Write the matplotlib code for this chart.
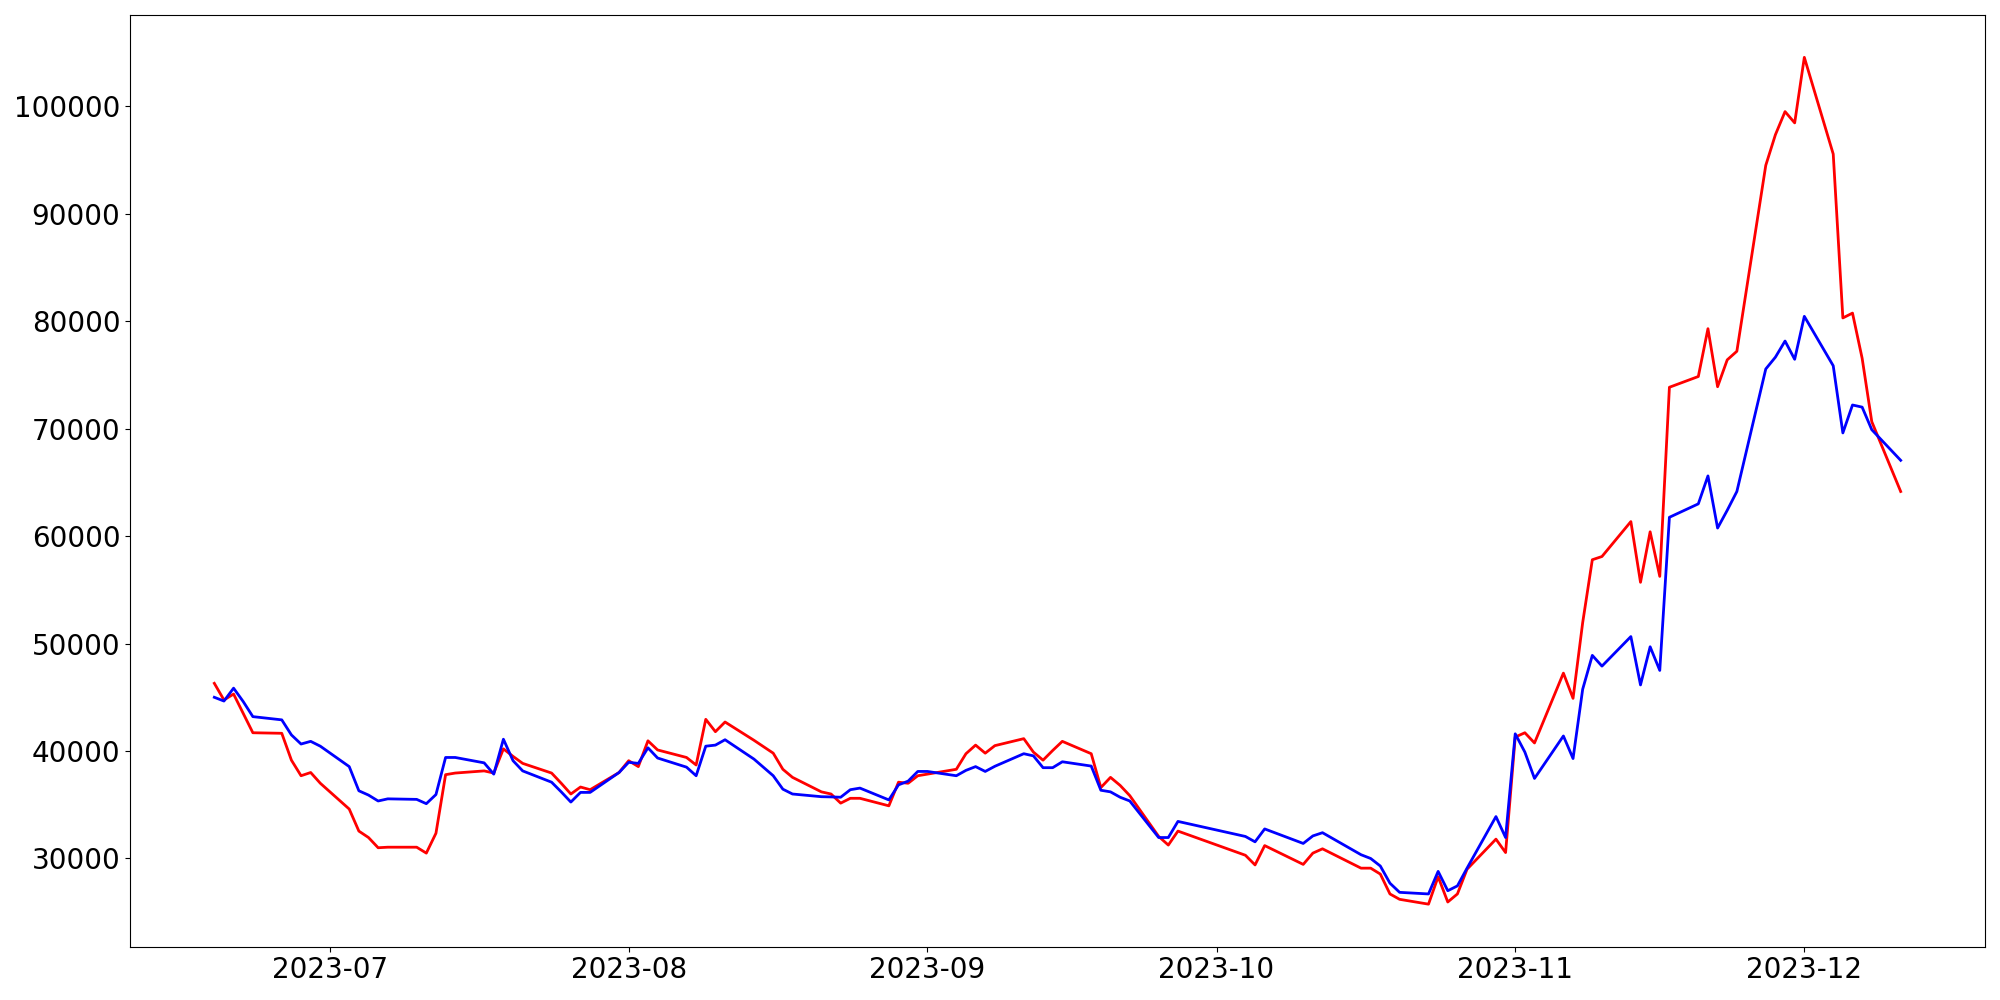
import matplotlib
matplotlib.use("Agg")
import matplotlib.pyplot as plt
import matplotlib.dates as mdates
import pandas as pd

dates = [
    "2023-06-19", "2023-06-20", "2023-06-21", "2023-06-22", "2023-06-23",
    "2023-06-26", "2023-06-27", "2023-06-28", "2023-06-29", "2023-06-30",
    "2023-07-03", "2023-07-04", "2023-07-05", "2023-07-06", "2023-07-07",
    "2023-07-10", "2023-07-11", "2023-07-12", "2023-07-13", "2023-07-14",
    "2023-07-17", "2023-07-18", "2023-07-19", "2023-07-20", "2023-07-21",
    "2023-07-24", "2023-07-25", "2023-07-26", "2023-07-27", "2023-07-28",
    "2023-07-31", "2023-08-01", "2023-08-02", "2023-08-03", "2023-08-04",
    "2023-08-07", "2023-08-08", "2023-08-09", "2023-08-10", "2023-08-11",
    "2023-08-14", "2023-08-16", "2023-08-17", "2023-08-18",
    "2023-08-21", "2023-08-22", "2023-08-23", "2023-08-24", "2023-08-25",
    "2023-08-28", "2023-08-29", "2023-08-30", "2023-08-31", "2023-09-01",
    "2023-09-04", "2023-09-05", "2023-09-06", "2023-09-07", "2023-09-08",
    "2023-09-11", "2023-09-12", "2023-09-13", "2023-09-14", "2023-09-15",
    "2023-09-18", "2023-09-19", "2023-09-20", "2023-09-21", "2023-09-22",
    "2023-09-25", "2023-09-26", "2023-09-27",
    "2023-10-04", "2023-10-05", "2023-10-06",
    "2023-10-10", "2023-10-11", "2023-10-12",
    "2023-10-16", "2023-10-17", "2023-10-18", "2023-10-19", "2023-10-20",
    "2023-10-23", "2023-10-24", "2023-10-25", "2023-10-26", "2023-10-27",
    "2023-10-30", "2023-10-31", "2023-11-01", "2023-11-02", "2023-11-03",
    "2023-11-06", "2023-11-07", "2023-11-08", "2023-11-09", "2023-11-10",
    "2023-11-13", "2023-11-14", "2023-11-15", "2023-11-16", "2023-11-17",
    "2023-11-20", "2023-11-21", "2023-11-22", "2023-11-23", "2023-11-24",
    "2023-11-27", "2023-11-28", "2023-11-29", "2023-11-30", "2023-12-01",
    "2023-12-04", "2023-12-05", "2023-12-06", "2023-12-07", "2023-12-08",
    "2023-12-11",
]

red_values = [
    46300, 44750, 45300, 43500, 41700,
    41650, 39150, 37700, 38000, 37000,
    34600, 32550, 31950, 31000, 31050,
    31050, 30500, 32350, 37800, 37950,
    38150, 37950, 40200, 39500, 38850,
    37950, 37000, 36000, 36650, 36400,
    38000, 39100, 38550, 40950, 40100,
    39400, 38700, 42950, 41800, 42700,
    41000, 39800, 38300, 37550,
    36200, 36000, 35150, 35600, 35600,
    34900, 37100, 37000, 37700, 37850,
    38300, 39750, 40550, 39800, 40500,
    41150, 39900, 39150, 40050, 40900,
    39750, 36600, 37550, 36800, 35850,
    32050, 31250, 32550,
    30300, 29400, 31200,
    29450, 30500, 30900,
    29100, 29100, 28550, 26700, 26200,
    25750, 28300, 25950, 26700, 29000,
    31800, 30550, 41300, 41700, 40750,
    47250, 44900, 51950, 57800, 58100,
    61350, 55700, 60400, 56250, 73850,
    74850, 79300, 73900, 76400, 77200,
    94500, 97350, 99500, 98450, 104550,
    95550, 80300, 80750, 76550, 70650,
    64150,
]

blue_values = [
    45000, 44650, 45850, 44600, 43200,
    42900, 41500, 40650, 40900, 40450,
    38550, 36300, 35900, 35350, 35550,
    35500, 35100, 35950, 39400, 39400,
    38900, 37850, 41100, 39100, 38150,
    37100, 36200, 35250, 36150, 36150,
    38000, 38950, 38850, 40300, 39350,
    38500, 37700, 40450, 40550, 41050,
    39250, 37700, 36450, 36000,
    35750, 35730, 35700, 36400, 36550,
    35450, 36850, 37200, 38100, 38100,
    37700, 38200, 38550, 38100, 38580,
    39750, 39550, 38450, 38450, 39000,
    38600, 36350, 36200, 35700, 35350,
    31950, 31950, 33450,
    32050, 31550, 32750,
    31400, 32100, 32400,
    30350, 30000, 29300, 27700, 26850,
    26700, 28800, 27000, 27450, 29100,
    33900, 31950, 41600, 39900, 37450,
    41400, 39300, 45750, 48900, 47900,
    50650, 46150, 49700, 47500, 61750,
    63000, 65600, 60750, 62400, 64150,
    75550, 76650, 78150, 76450, 80450,
    75850, 69600, 72200, 72000, 69900,
    67050,
]

x = pd.to_datetime(dates)

fig, ax = plt.subplots(figsize=(20, 10), dpi=100)
ax.plot(x, red_values, color="red", linewidth=2)
ax.plot(x, blue_values, color="blue", linewidth=2)

ax.xaxis.set_major_locator(mdates.MonthLocator())
ax.xaxis.set_major_formatter(mdates.DateFormatter("%Y-%m"))
ax.tick_params(axis="both", labelsize=20)

fig.subplots_adjust(left=0.065, right=0.9925, top=0.985, bottom=0.0535)
plt.savefig("out.png")
plt.close()
